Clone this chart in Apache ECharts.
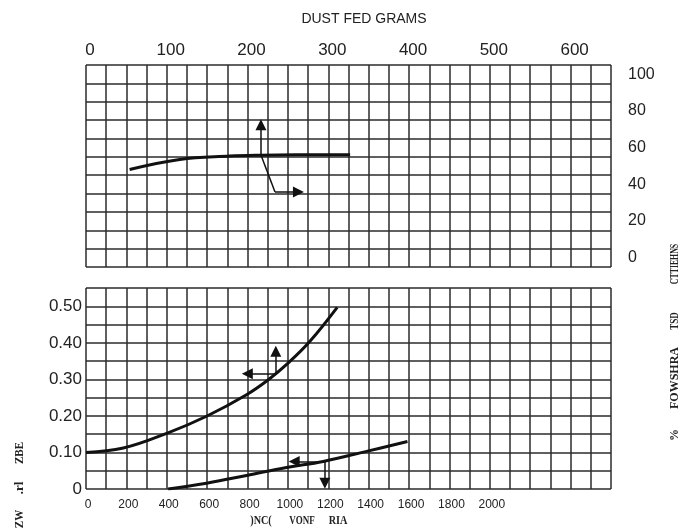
<!DOCTYPE html>
<html><head><meta charset="utf-8">
<script src="https://cdn.jsdelivr.net/npm/echarts@6/dist/echarts.min.js"></script>
<style>html,body{margin:0;padding:0;background:#fff}#c{width:689px;height:529px}</style>
</head><body><div id="c"></div>
<script>
// tick labels
const topXLabels = [0, 100, 200, 300, 400, 500, 600];          // DUST FED GRAMS
const topYLabels = [0, 20, 40, 60, 80, 100];                   // right axis (%)
const botXLabels = [0, 200, 400, 600, 800, 1000, 1200, 1400, 1600, 1800, 2000];
const botYLabels = [0, 0.10, 0.20, 0.30, 0.40, 0.50];

// curves
const dustFedCurve = [[54, 48.1], [116, 53.6], [178, 55.4], [215, 55.9], [260, 56.1], [327, 56.1]];
const upperCurve = [[0, 0.100], [185, 0.112], [403, 0.153], [597, 0.199], [795, 0.258], [903, 0.299], [1002, 0.345], [1109, 0.404], [1244, 0.497]];
const lowerCurve = [[407, 0.000], [597, 0.016], [795, 0.037], [993, 0.059], [1175, 0.0755], [1389, 0.103], [1592, 0.130]];

// arrow annotations (from point -> to point), in data units
const topArrows = [[[216.6, 56.0], [216.6, 72.5]], [[234, 35.9], [263, 35.9]]];
const topArrowPlain = [[[216.6, 56.0], [234, 35.9]]];
const botArrows = [[[940, 0.3155], [799, 0.3155]], [[940, 0.3155], [940, 0.377]], [[1183, 0.0755], [1031, 0.0755]], [[1183, 0.0755], [1183, 0.016]]];

const GRID_COLOR = '#2b2b2b';
const TEXT_COLOR = '#222';
const SANS = '"Liberation Sans", Arial, sans-serif';
const SERIF = '"Liberation Serif", "DejaVu Serif", serif';

function near(list, v) { return list.find(l => Math.abs(l - v) < 1e-6); }

const chart = echarts.init(document.getElementById('c'), null, {renderer: 'canvas'});
const splitLine = {show: true, lineStyle: {color: GRID_COLOR, width: 1.5}};

function garbled(text, x, y, scaleX, size) {
  return {type: 'text', x: x, y: y, rotation: Math.PI / 2, scaleX: scaleX,
    style: {text: text, font: 'bold ' + size + 'px ' + SERIF, fill: TEXT_COLOR, align: 'center', verticalAlign: 'middle'}};
}
function flat(text, x, y, scaleX, size) {
  return {type: 'text', x: x, y: y, scaleX: scaleX,
    style: {text: text, font: 'bold ' + size + 'px ' + SERIF, fill: TEXT_COLOR, align: 'center', verticalAlign: 'middle'}};
}

chart.setOption({
  animation: false,
  backgroundColor: '#fff',
  grid: [
    {left: 86, top: 65, width: 525, height: 202},
    {left: 86, top: 288, width: 525, height: 201}
  ],
  xAxis: [
    {gridIndex: 0, type: 'value', position: 'top', min: 0, max: 650, interval: 25,
      axisLine: {show: false}, axisTick: {show: false}, splitLine: splitLine,
      axisLabel: {margin: 6, fontSize: 17, fontFamily: SANS, color: TEXT_COLOR, padding: [0, 0, 0, 8],
        formatter: v => near(topXLabels, v) !== undefined ? String(v) : ''}},
    {gridIndex: 1, type: 'value', position: 'bottom', min: 0, max: 2600, interval: 100,
      axisLine: {show: false}, axisTick: {show: false}, splitLine: splitLine,
      axisLabel: {margin: 10, fontSize: 12, fontFamily: SANS, color: TEXT_COLOR, padding: [0, 0, 0, 4],
        formatter: v => near(botXLabels, v) !== undefined ? String(v) : ''}}
  ],
  yAxis: [
    {gridIndex: 0, type: 'value', min: 0, max: 11, interval: 1,
      axisLine: {show: false}, axisTick: {show: false}, axisLabel: {show: false}, splitLine: splitLine},
    {gridIndex: 0, type: 'value', position: 'right', min: -5, max: 105, interval: 5,
      axisLine: {show: false}, axisTick: {show: false}, splitLine: {show: false},
      axisLabel: {margin: 17, fontSize: 16, fontFamily: SANS, color: TEXT_COLOR,
        formatter: v => near(topYLabels, v) !== undefined ? String(Math.round(v)) : ''}},
    {gridIndex: 1, type: 'value', position: 'left', min: 0, max: 0.55, interval: 0.05,
      axisLine: {show: false}, axisTick: {show: false}, splitLine: splitLine,
      axisLabel: {margin: 4, fontSize: 17, fontFamily: SANS, color: TEXT_COLOR,
        formatter: v => { const l = near(botYLabels, v); return l === undefined ? '' : (l === 0 ? '0' : l.toFixed(2)); }}}
  ],
  series: [
    {type: 'line', xAxisIndex: 0, yAxisIndex: 1, data: dustFedCurve, smooth: 0.4, showSymbol: false,
      lineStyle: {color: '#111', width: 3}, z: 5},
    {type: 'line', xAxisIndex: 1, yAxisIndex: 2, data: upperCurve, smooth: 0.4, showSymbol: false,
      lineStyle: {color: '#111', width: 3}, z: 5},
    {type: 'line', xAxisIndex: 1, yAxisIndex: 2, data: lowerCurve, smooth: 0.4, showSymbol: false,
      lineStyle: {color: '#111', width: 3}, z: 5},
    {type: 'lines', coordinateSystem: 'cartesian2d', xAxisIndex: 0, yAxisIndex: 1,
      symbol: ['none', 'triangle'], symbolSize: 11,
      lineStyle: {color: '#111', width: 1.5, opacity: 1, curveness: 0},
      data: topArrows.map(c => ({coords: c})), z: 6},
    {type: 'lines', coordinateSystem: 'cartesian2d', xAxisIndex: 0, yAxisIndex: 1,
      symbol: ['none', 'none'],
      lineStyle: {color: '#111', width: 1.5, opacity: 1, curveness: 0},
      data: topArrowPlain.map(c => ({coords: c})), z: 6},
    {type: 'lines', coordinateSystem: 'cartesian2d', xAxisIndex: 1, yAxisIndex: 2,
      symbol: ['none', 'triangle'], symbolSize: 11,
      lineStyle: {color: '#111', width: 1.5, opacity: 1, curveness: 0},
      data: botArrows.map(c => ({coords: c})), z: 6}
  ],
  graphic: [
    {type: 'text', x: 364, y: 19, style: {text: 'DUST FED GRAMS', font: '14px ' + SANS, fill: TEXT_COLOR, align: 'center', verticalAlign: 'middle'}},
    garbled('%', 675, 435, 1, 12),
    garbled('FOWSHRA', 675, 378, 1, 12),
    garbled('TSD', 675, 321, 0.75, 12),
    garbled('CTTIEHNS', 675, 264, 0.65, 12),
    garbled('ZBE', 20, 453, 0.85, 13),
    garbled('.rl', 20, 488, 1, 13),
    garbled('ZW', 20, 519, 0.85, 13),
    flat(')NC(', 261, 521, 0.85, 12),
    flat('VONF', 302, 521, 0.75, 12),
    flat('RIA', 338, 521, 0.85, 12)
  ]
});
</script>
</body></html>
